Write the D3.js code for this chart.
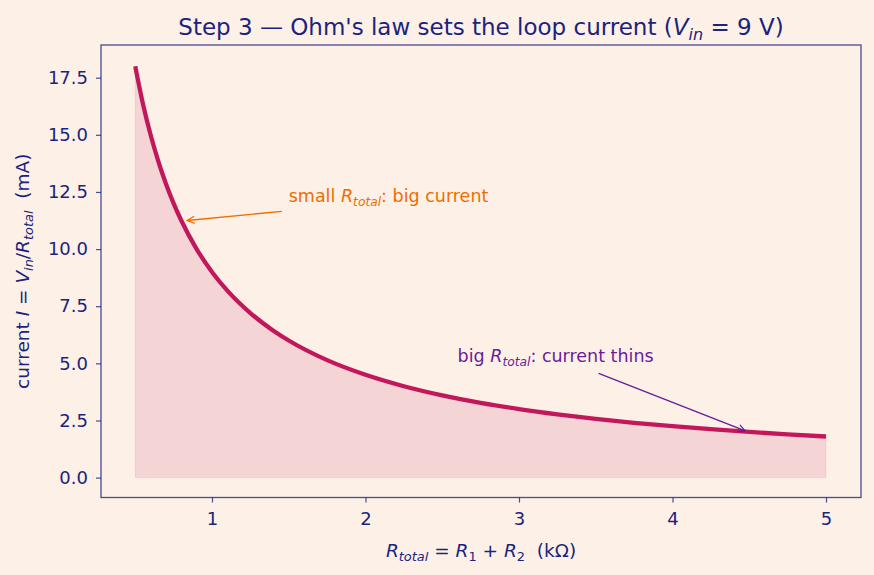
<!DOCTYPE html>
<html>
<head>
<meta charset="utf-8">
<script src="https://cdn.jsdelivr.net/npm/d3@7"></script>
<style>
  body { margin: 0; background: #fdf1e7; }
  svg { display: block; font-family: "DejaVu Sans", sans-serif; }
</style>
</head>
<body>
<svg id="chart"></svg>
<script>
const W = 874, H = 575;

// total resistance (kOhm) and loop current (mA)
const rTotal = [0.5, 0.55, 0.6, 0.65, 0.7, 0.75, 0.8, 0.9, 1.0, 1.1, 1.25, 1.4, 1.5, 1.75,
                2.0, 2.25, 2.5, 2.75, 3.0, 3.25, 3.5, 3.75, 4.0, 4.25, 4.5, 4.75, 5.0];
const current = [18.0, 16.36, 15.0, 13.85, 12.86, 12.0, 11.25, 10.0, 9.0, 8.18, 7.2, 6.43, 6.0, 5.14,
                 4.5, 4.0, 3.6, 3.27, 3.0, 2.77, 2.57, 2.4, 2.25, 2.12, 2.0, 1.89, 1.8];
const xTicks = [1, 2, 3, 4, 5];
const yTicks = [0, 2.5, 5, 7.5, 10, 12.5, 15, 17.5];

const ink = "#1a237e";
const lineColor = "#c2185b";
const font = "DejaVu Sans, sans-serif";

const m = { left: 101, right: 13, top: 45, bottom: 77.5 };

const svg = d3.select("#chart").attr("width", W).attr("height", H);
svg.append("rect").attr("width", W).attr("height", H).attr("fill", "#fdf1e7");

const x = d3.scaleLinear().domain([0.277, 5.228]).range([m.left, W - m.right]);
const y = d3.scaleLinear().domain([-0.87, 18.93]).range([H - m.bottom, m.top]);

const pts = rTotal.map((r, i) => ({ r: r, i: current[i] }));

// shaded area under the curve
svg.append("path")
    .datum(pts)
    .attr("d", d3.area().x(d => x(d.r)).y0(y(0)).y1(d => y(d.i)).curve(d3.curveMonotoneX))
    .attr("fill", lineColor)
    .attr("fill-opacity", 0.13)
    .attr("stroke", lineColor)
    .attr("stroke-opacity", 0.08)
    .attr("stroke-width", 1.2);

svg.append("path")
    .datum(pts)
    .attr("d", d3.line().x(d => x(d.r)).y(d => y(d.i)).curve(d3.curveMonotoneX))
    .attr("fill", "none")
    .attr("stroke", lineColor)
    .attr("stroke-width", 4.3);

// axes
const xAxis = svg.append("g")
    .attr("transform", "translate(0," + (H - m.bottom) + ")")
    .call(d3.axisBottom(x).tickValues(xTicks).tickSize(5).tickPadding(10).tickFormat(d3.format("d")));
const yAxis = svg.append("g")
    .attr("transform", "translate(" + m.left + ",0)")
    .call(d3.axisLeft(y).tickValues(yTicks).tickSize(5).tickPadding(8).tickFormat(d3.format(".1f")));

[xAxis, yAxis].forEach(g => {
    g.select(".domain").remove();
    g.selectAll("line").attr("stroke", ink).attr("stroke-opacity", 0.8).attr("stroke-width", 1.2);
    g.selectAll("text").attr("fill", ink).attr("font-size", 18).attr("font-family", font);
});

svg.append("rect")
    .attr("x", m.left).attr("y", m.top)
    .attr("width", W - m.left - m.right).attr("height", H - m.top - m.bottom)
    .attr("fill", "none").attr("stroke", ink).attr("stroke-opacity", 0.8).attr("stroke-width", 1.3);

// helper: write text pieces with italic / subscript parts (mathtext look)
function rich(sel, parts, size) {
    let low = false;
    const shift = size * 0.22;
    parts.forEach(p => {
        const t = sel.append("tspan").text(p.t);
        if (p.it) t.attr("font-style", "italic");
        if (p.sub) {
            t.attr("font-size", size * 0.7);
            if (!low) { t.attr("dy", shift); low = true; }
        } else if (low) {
            t.attr("dy", -shift); low = false;
        }
    });
    return sel;
}

// title
rich(svg.append("text")
    .attr("x", (m.left + W - m.right) / 2).attr("y", 35)
    .attr("text-anchor", "middle").attr("fill", ink).attr("font-size", 23).attr("font-family", font),
    [{ t: "Step 3 \u2014 Ohm's law sets the loop current (" }, { t: "V", it: true },
     { t: "in", it: true, sub: true }, { t: " = 9 V)" }], 23);

// x label
rich(svg.append("text")
    .attr("x", (m.left + W - m.right) / 2).attr("y", 557)
    .attr("text-anchor", "middle").attr("fill", ink).attr("font-size", 18.5).attr("font-family", font),
    [{ t: "R", it: true }, { t: "total", it: true, sub: true }, { t: " = " }, { t: "R", it: true },
     { t: "1", sub: true }, { t: " + " }, { t: "R", it: true }, { t: "2", sub: true }, { t: "\u00a0\u00a0(k\u03a9)" }], 18.5);

// y label
rich(svg.append("text")
    .attr("transform", "translate(29," + ((m.top + H - m.bottom) / 2) + ") rotate(-90)")
    .attr("text-anchor", "middle").attr("fill", ink).attr("font-size", 18.5).attr("font-family", font),
    [{ t: "current " }, { t: "I", it: true }, { t: " = " }, { t: "V", it: true }, { t: "in", it: true, sub: true },
     { t: "/" }, { t: "R", it: true }, { t: "total", it: true, sub: true }, { t: "\u00a0\u00a0(mA)" }], 18.5);

// annotations
const defs = svg.append("defs");
function arrowHead(id, color) {
    defs.append("marker").attr("id", id)
        .attr("viewBox", "0 0 10 10").attr("refX", 9).attr("refY", 5)
        .attr("markerWidth", 9).attr("markerHeight", 9).attr("markerUnits", "userSpaceOnUse")
        .attr("orient", "auto")
        .append("path").attr("d", "M1,1 L9,5 L1,9").attr("fill", "none")
        .attr("stroke", color).attr("stroke-width", 1.4);
}
const orange = "#ef6c00", purple = "#6a1b9a";
arrowHead("ah-orange", orange);
arrowHead("ah-purple", purple);

const notes = [
    { text: "small ", tail: ": big current", tx: 1.5, ty: 12.0, px: 0.8, py: 11.25, color: orange, id: "ah-orange", sx: -7, sy: 8, ex: 6, ey: 0 },
    { text: "big ", tail: ": current thins", tx: 2.6, ty: 5.0, px: 4.5, py: 2.0, color: purple, id: "ah-purple", sx: 141, sy: 10, ex: -4, ey: -1 }
];

notes.forEach(n => {
    const t = svg.append("text")
        .attr("x", x(n.tx)).attr("y", y(n.ty) - 1)
        .attr("fill", n.color).attr("font-size", 17.5).attr("font-family", font);
    rich(t, [{ t: n.text }, { t: "R", it: true }, { t: "total", it: true, sub: true }, { t: n.tail }], 17.5);
    svg.append("line")
        .attr("x1", x(n.tx) + n.sx).attr("y1", y(n.ty) + n.sy)
        .attr("x2", x(n.px) + n.ex).attr("y2", y(n.py) + n.ey)
        .attr("stroke", n.color).attr("stroke-width", 1.4)
        .attr("marker-end", "url(#" + n.id + ")");
});
</script>
</body>
</html>
